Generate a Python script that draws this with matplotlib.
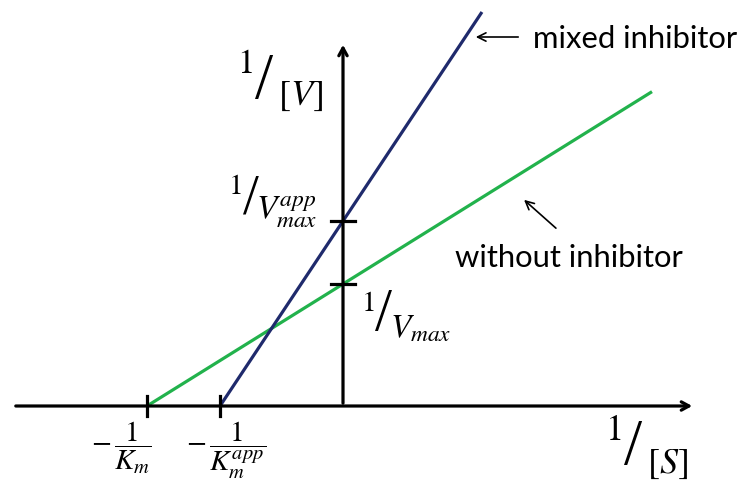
import numpy as np
import matplotlib
matplotlib.use("Agg")
import matplotlib.pyplot as plt

plt.rcParams['mathtext.fontset'] = 'stix'

# Lineweaver-Burk plot, mixed inhibition (arbitrary units)
km_inv = 1.96          # -1/Km  (without inhibitor)
km_app_inv = 1.23      # -1/Km^app (mixed inhibitor)
vmax_inv = 1.22        # 1/Vmax
vmax_app_inv = 1.85    # 1/Vmax^app
x_end_without = 3.09
y_end_mixed = 3.94

green = '#22b24c'
navy = '#1f2a6c'

fig = plt.figure(figsize=(7.39, 4.84), dpi=100)
ax = fig.add_axes([0, 0, 1, 1])
ax.set_xlim(-3.43, 3.96)
ax.set_ylim(-0.78, 4.06)
ax.axis('off')

# axes with arrows
ax.annotate('', xy=(3.52, 0), xytext=(-3.30, 0),
            arrowprops=dict(arrowstyle='->,head_length=0.55,head_width=0.3', lw=2.3, color='black'))
ax.annotate('', xy=(0, 3.64), xytext=(0, 0),
            arrowprops=dict(arrowstyle='->,head_length=0.55,head_width=0.3', lw=2.3, color='black'))

# lines
slope_w = vmax_inv / km_inv
xs_w = np.array([-km_inv, x_end_without])
ax.plot(xs_w, vmax_inv + slope_w * xs_w, color=green, lw=2.3, solid_capstyle='butt')

slope_m = vmax_app_inv / km_app_inv
xs_m = np.array([-km_app_inv, (y_end_mixed - vmax_app_inv) / slope_m])
ax.plot(xs_m, vmax_app_inv + slope_m * xs_m, color=navy, lw=2.3, solid_capstyle='butt')

# tick marks at intercepts
for xv in [-km_inv, -km_app_inv]:
    ax.plot([xv, xv], [-0.1, 0.1], color='black', lw=2.3)
for yv in [vmax_inv, vmax_app_inv]:
    ax.plot([-0.12, 0.12], [yv, yv], color='black', lw=2.3)


def slash_label(x, y, num, den, num_off, den_off, size=25, den_size=25, slash_size=47):
    ax.text(x, y, '/', fontsize=slash_size, family='Liberation Serif',
            ha='center', va='center')
    ax.annotate(num, (x, y), xytext=num_off, textcoords='offset points',
                fontsize=size, ha='center', va='center')
    ax.annotate(den, (x, y), xytext=den_off, textcoords='offset points',
                fontsize=den_size, ha='center', va='center')


slash_label(-0.79, 3.235, '$1$', '$[V]$', (-14, 14), (26, -10), size=25, den_size=26)
slash_label(-0.925, 2.065, '$1$', '$V_{max}^{app}$', (-11.5, 9.5), (26, -9),
            size=21, den_size=24, slash_size=41)
slash_label(0.405, 0.91, '$1$', '$V_{max}$', (-11.5, 8.5), (27, -9),
            size=21, den_size=24, slash_size=44)
slash_label(2.90, -0.425, '$1$', '$[S]$', (-14, 13.5), (24.5, -11), size=26, den_size=26)

ax.text(-2.22, -0.42, r'$-\,\dfrac{1}{K_m}$', fontsize=21, ha='center', va='center')
ax.text(-1.17, -0.44, r'$-\,\dfrac{1}{K_m^{app}}$', fontsize=21, ha='center', va='center')

# annotations
ax.annotate('', xy=(1.30, 3.69), xytext=(1.78, 3.69),
            arrowprops=dict(arrowstyle='->,head_length=0.6,head_width=0.3', lw=1.2, color='black'))
ax.text(1.90, 3.67, 'mixed inhibitor', fontsize=22.3, family='Lato', ha='left', va='center')

ax.annotate('', xy=(1.79, 2.08), xytext=(2.15, 1.76),
            arrowprops=dict(arrowstyle='->,head_length=0.6,head_width=0.3', lw=1.2, color='black'))
ax.text(1.12, 1.48, 'without inhibitor', fontsize=22.3, family='Lato', ha='left', va='center')

fig.savefig('out.png', dpi=100)
